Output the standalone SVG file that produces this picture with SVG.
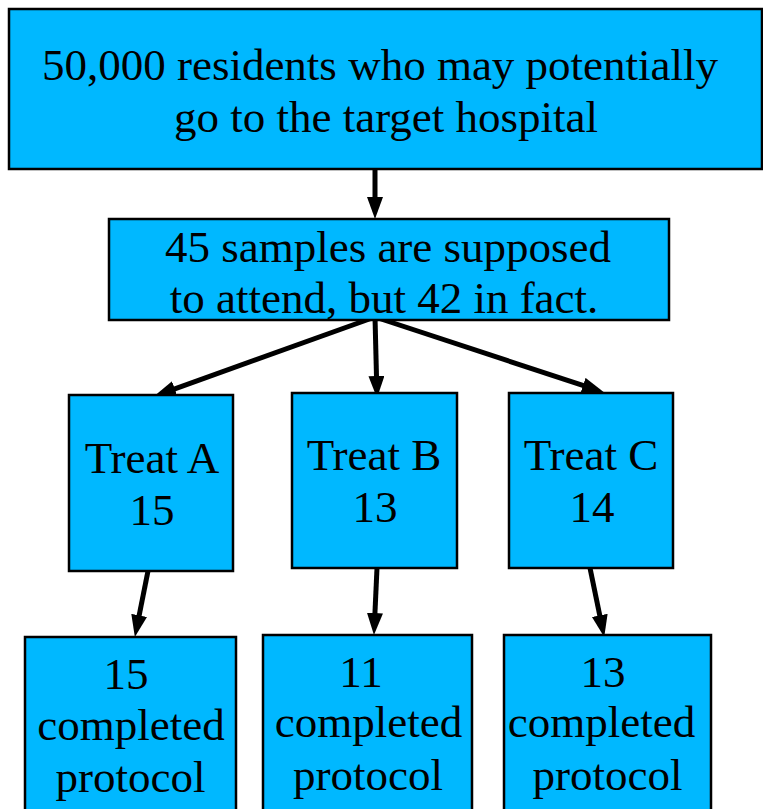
<svg xmlns="http://www.w3.org/2000/svg" width="763" height="809" viewBox="0 0 763 809">
<style>
.box{fill:#00b8ff;stroke:#000;stroke-width:2.5}
.t{font-family:"Liberation Serif","Times New Roman",serif;font-size:45px;fill:#000;text-anchor:middle}
.c{stroke:#000;stroke-width:5;fill:none;marker-end:url(#ah)}
</style>
<defs>
<marker id="ah" markerUnits="userSpaceOnUse" markerWidth="23" markerHeight="17" refX="11" refY="8" orient="auto">
<path d="M0,0 L22,8 L0,16 z" fill="#000"/>
</marker>
</defs>
<rect width="763" height="809" fill="#fff"/>
<g id="connectors">
<line class="c" x1="375" y1="169" x2="375" y2="208"/>
<line class="c" x1="375" y1="317" x2="164.4" y2="392.6"/>
<line class="c" x1="375" y1="317" x2="376.75" y2="387"/>
<line class="c" x1="375" y1="317" x2="593.5" y2="388.9"/>
<line class="c" x1="148" y1="571" x2="137" y2="626.2"/>
<line class="c" x1="377" y1="568" x2="374.45" y2="624"/>
<line class="c" x1="590" y1="568" x2="602" y2="626.2"/>
</g>
<g id="population">
<rect class="box" x="9" y="9" width="753" height="160"/>
<text class="t" x="380" y="80">50,000 residents who may potentially</text>
<text class="t" x="386" y="132">go to the target hospital</text>
</g>
<g id="samples">
<rect class="box" x="109" y="219" width="560" height="101"/>
<text class="t" x="388" y="262">45 samples are supposed</text>
<text class="t" x="384" y="313">to attend, but 42 in fact.</text>
</g>
<g id="treatA">
<rect class="box" x="69" y="395" width="164" height="176"/>
<text class="t" x="152" y="473">Treat A</text>
<text class="t" x="152" y="525">15</text>
</g>
<g id="treatB">
<rect class="box" x="292" y="393" width="165" height="175"/>
<text class="t" x="374" y="470">Treat B</text>
<text class="t" x="375" y="522">13</text>
</g>
<g id="treatC">
<rect class="box" x="509" y="393" width="164" height="175"/>
<text class="t" x="591" y="470">Treat C</text>
<text class="t" x="592" y="522">14</text>
</g>
<g id="completedA">
<rect class="box" x="25" y="637" width="211" height="180"/>
<text class="t" x="126" y="689">15</text>
<text class="t" x="131" y="740">completed</text>
<text class="t" x="130.5" y="792">protocol</text>
</g>
<g id="completedB">
<rect class="box" x="263" y="635" width="209" height="180"/>
<text class="t" x="361" y="687">11</text>
<text class="t" x="368.5" y="737">completed</text>
<text class="t" x="368" y="790">protocol</text>
</g>
<g id="completedC">
<rect class="box" x="504" y="635" width="207" height="180"/>
<text class="t" x="603" y="687">13</text>
<text class="t" x="601.5" y="737">completed</text>
<text class="t" x="607.5" y="790">protocol</text>
</g>
</svg>
